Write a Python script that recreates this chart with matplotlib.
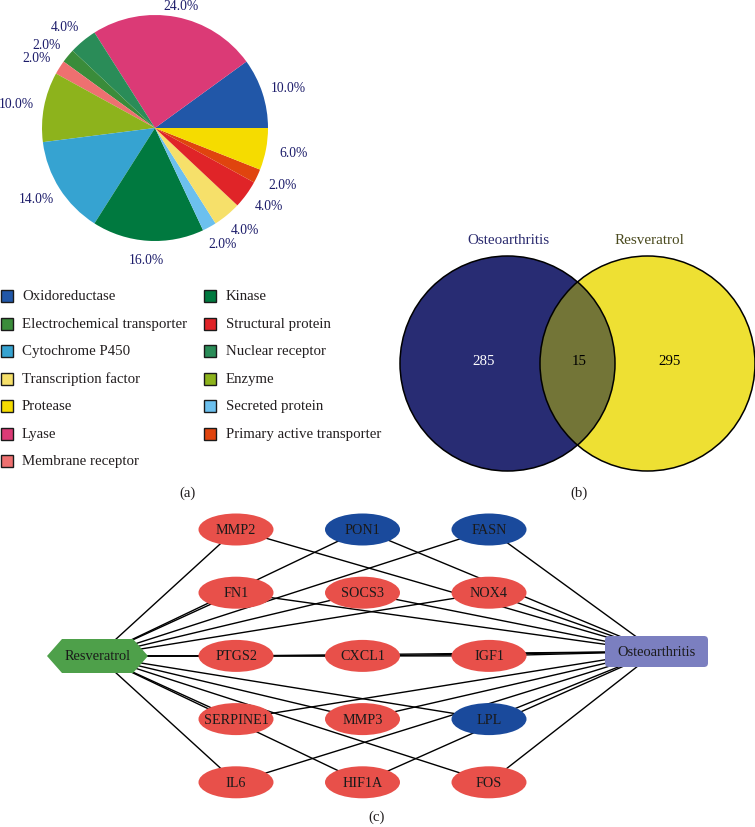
import numpy as np
import matplotlib
matplotlib.use("Agg")
import matplotlib.pyplot as plt
from matplotlib.patches import Circle, Ellipse, Polygon, FancyBboxPatch, Rectangle

plt.rcParams['font.family'] = ['Liberation Serif', 'DejaVu Serif']

# ---------------- data ----------------
pie_categories = ["Oxidoreductase", "Lyase", "Nuclear receptor", "Electrochemical transporter",
                  "Membrane receptor", "Enzyme", "Cytochrome P450", "Kinase", "Secreted protein",
                  "Transcription factor", "Structural protein", "Primary active transporter", "Protease"]
pie_values = [10.0, 24.0, 4.0, 2.0, 2.0, 10.0, 14.0, 16.0, 2.0, 4.0, 4.0, 2.0, 6.0]
pie_colors = ["#2157A8", "#DB3A76", "#2A8C58", "#3A8C3A", "#EE7070", "#8DB31C", "#36A3D1",
              "#00793F", "#6CC0EE", "#F6E06A", "#E02428", "#E0440E", "#F5DC00"]
legend_order = ["Oxidoreductase", "Electrochemical transporter", "Cytochrome P450",
                "Transcription factor", "Protease", "Lyase", "Membrane receptor",
                "Kinase", "Structural protein", "Nuclear receptor", "Enzyme",
                "Secreted protein", "Primary active transporter"]

venn_sets = ["Osteoarthritis", "Resveratrol"]
venn_counts = [285, 15, 295]  # only A, A&B, only B

hubs = ["Resveratrol", "Osteoarthritis"]
genes = ["MMP2", "PON1", "FASN",
         "FN1", "SOCS3", "NOX4",
         "PTGS2", "CXCL1", "IGF1",
         "SERPINE1", "MMP3", "LPL",
         "IL6", "HIF1A", "FOS"]
gene_group = ["up", "down", "down",
              "up", "up", "up",
              "up", "up", "up",
              "up", "up", "down",
              "up", "up", "up"]
edges = [(h, g) for g in genes for h in hubs]

# ---------------- figure ----------------
W, H = 755, 828
fig = plt.figure(figsize=(W / 100, H / 100), dpi=100)

# ---- (a) pie ----
pcx, pcy, pr = 155, 129, 113
axp = fig.add_axes([(pcx - pr) / W, 1 - (pcy + pr) / H, 2 * pr / W, 2 * pr / H])
wedges, _ = axp.pie(pie_values, colors=pie_colors, startangle=0, counterclock=True,
                    radius=1.0, wedgeprops=dict(linewidth=0))
axp.set_xlim(-1, 1)
axp.set_ylim(-1, 1)
axp.set_aspect('equal')
axp.axis('off')
for w, v in zip(wedges, pie_values):
    th = np.deg2rad((w.theta1 + w.theta2) / 2)
    c, s = np.cos(th), np.sin(th)
    x = 1.1 * c + 0.145 * c
    y = min(1.1 * s + 0.065 * s, 1.08)
    axp.text(x, y, f"{v:.1f}%", ha='center', va='center', fontsize=9.8,
             color='#1C1C6A', clip_on=False)

# ---- overlay axes in pixel coords ----
ax = fig.add_axes([0, 0, 1, 1], facecolor='none')
ax.set_xlim(0, W)
ax.set_ylim(H, 0)
ax.axis('off')

# legend (a)
color_of = dict(zip(pie_categories, pie_colors))
row_y0, row_dy = 297, 27.5
for i, name in enumerate(legend_order):
    col, row = (0, i) if i < 7 else (1, i - 7)
    mx = 6.5 if col == 0 else 210
    tx = 22 if col == 0 else 226
    y = row_y0 + row * row_dy
    ax.add_patch(Rectangle((mx - 6, y - 6), 12, 12, facecolor=color_of[name],
                           edgecolor='#1a1a1a', linewidth=1.0))
    ax.text(tx, y, name, ha='left', va='center', fontsize=10.7, color='#231F20')

ax.text(188, 493, "(a)", ha='center', va='center', fontsize=10.7, color='#231F20')

# ---- (b) venn ----
vr = 107.5
lc, rc = (507.5, 364.5), (647.5, 364.5)
left = Circle(lc, vr, facecolor='#282C73', edgecolor='none')
right = Circle(rc, vr, facecolor='#EEE033', edgecolor='none')
ax.add_patch(left)
ax.add_patch(right)
lens = Circle(rc, vr, facecolor='#737537', edgecolor='none')
ax.add_patch(lens)
lens.set_clip_path(Circle(lc, vr, transform=ax.transData))
for c in (lc, rc):
    ax.add_patch(Circle(c, vr, facecolor='none', edgecolor='black', linewidth=1.1))
ax.text(508, 241, venn_sets[0], ha='center', va='center', fontsize=10.9, color='#2A2A6E')
ax.text(649, 241, venn_sets[1], ha='center', va='center', fontsize=10.9, color='#4A4A1E')
ax.text(484, 362, str(venn_counts[0]), ha='center', va='center', fontsize=10.7, color='white')
ax.text(579, 362, str(venn_counts[1]), ha='center', va='center', fontsize=10.7, color='black')
ax.text(670, 362, str(venn_counts[2]), ha='center', va='center', fontsize=10.7, color='black')
ax.text(579, 493, "(b)", ha='center', va='center', fontsize=10.7, color='#231F20')

# ---- (c) network ----
col_x = [236, 362.5, 489]
row_y = [530.5 + 63.2 * r for r in range(5)]
pos = {}
for k, g in enumerate(genes):
    pos[g] = (col_x[k % 3], row_y[k // 3])
pos["Resveratrol"] = (97.5, 657)
pos["Osteoarthritis"] = (656.5, 652.5)

for a, b in edges:
    (x1, y1), (x2, y2) = pos[a], pos[b]
    ax.plot([x1, x2], [y1, y2], color='black', linewidth=1.0, zorder=1,
            solid_capstyle='butt')

grp_color = {"up": "#E8504A", "down": "#1A4A9C"}
for g, grp in zip(genes, gene_group):
    x, y = pos[g]
    ax.add_patch(Ellipse((x, y), 75, 32, facecolor=grp_color[grp], edgecolor='none', zorder=3))
    ax.text(x, y, g, ha='center', va='center', fontsize=10.2, color='#1a1a1a', zorder=4)

hx, hy = pos["Resveratrol"]
hex_pts = [(hx - 50.5, hy), (hx - 35.5, hy - 17), (hx + 35.5, hy - 17),
           (hx + 50.5, hy), (hx + 35.5, hy + 17), (hx - 35.5, hy + 17)]
ax.add_patch(Polygon(hex_pts, closed=True, facecolor='#4EA04A', edgecolor='none', zorder=3))
ax.text(hx, hy, "Resveratrol", ha='center', va='center', fontsize=10.4, color='#1a1a1a', zorder=4)

ox, oy = pos["Osteoarthritis"]
ax.add_patch(FancyBboxPatch((ox - 48.5, oy - 12.5), 97, 25,
                            boxstyle="round,pad=3,rounding_size=4",
                            facecolor='#7B7FC0', edgecolor='none', zorder=3))
ax.text(ox, oy, "Osteoarthritis", ha='center', va='center', fontsize=10.4, color='#1a1a1a', zorder=4)

ax.text(377, 817, "(c)", ha='center', va='center', fontsize=10.7, color='#231F20')

fig.savefig("out.png", dpi=100)
